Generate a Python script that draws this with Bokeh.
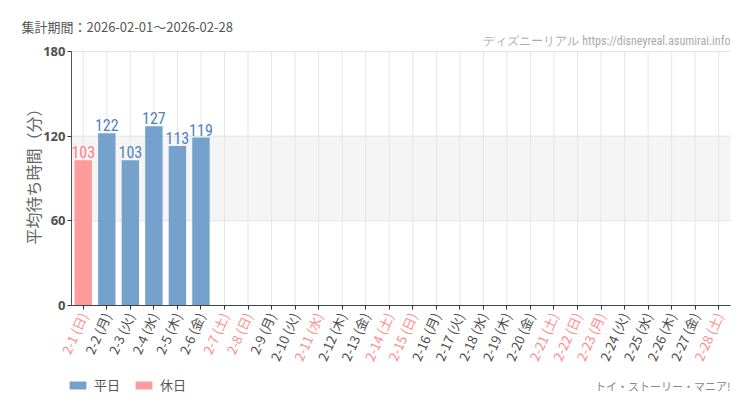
import math
from bokeh.plotting import figure
from bokeh.models import (ColumnDataSource, LinearAxis, FixedTicker, BoxAnnotation,
                          Label, Legend, LegendItem, Range1d)
from bokeh.core.properties import value
from bokeh.embed import file_html
from bokeh.resources import INLINE

# ---- data ----
dates = ["2-1", "2-2", "2-3", "2-4", "2-5", "2-6", "2-7", "2-8", "2-9", "2-10",
         "2-11", "2-12", "2-13", "2-14", "2-15", "2-16", "2-17", "2-18", "2-19", "2-20",
         "2-21", "2-22", "2-23", "2-24", "2-25", "2-26", "2-27", "2-28"]
dows = ["日", "月", "火", "水", "木", "金", "土", "日", "月", "火",
        "水", "木", "金", "土", "日", "月", "火", "水", "木", "金",
        "土", "日", "月", "火", "水", "木", "金", "土"]
holiday = [1, 0, 0, 0, 0, 0, 1, 1, 0, 0,
           1, 0, 0, 1, 1, 0, 0, 0, 0, 0,
           1, 1, 1, 0, 0, 0, 0, 1]
wait_values = [103, 122, 103, 127, 113, 119]   # 2-1 .. 2-6
y_ticks = [0, 60, 120, 180]
Y_MAX = 180

N = len(dates)
idx = list(range(N))
labels = [f"{d} ({w})" for d, w in zip(dates, dows)]
wk_idx = [i for i in idx if not holiday[i]]
hd_idx = [i for i in idx if holiday[i]]

BLUE = "#6b9bc8"
BLUE_TXT = "#4d84bb"
PINK = "#ff9393"
PINK_TXT = "#ff7f7f"
HOL_LABEL = "#ff8c8c"
WK_LABEL = "#4f4f4f"
JP = "Noto Sans CJK JP"
COND = "Roboto Condensed"

wk = dict(x=[], top=[], t=[])
hd = dict(x=[], top=[], t=[])
for i, v in enumerate(wait_values):
    tgt = hd if holiday[i] else wk
    tgt["x"].append(i); tgt["top"].append(v); tgt["t"].append(str(v))
src_wk = ColumnDataSource(wk)
src_hd = ColumnDataSource(hd)

# page geometry (canvas px)
W, H = 750, 410
X_L, X_R = 71, 730      # left / right edge of the value area
Y180, Y0 = 51, 305      # 180 line / 0 line
ppx = (X_R - X_L) / N
ppu = (Y0 - Y180) / Y_MAX
x_lo = -0.5 - X_L / ppx
x_hi = N - 0.5 + (W - X_R) / ppx
y_lo = -(H - Y0) / ppu
y_hi = Y_MAX + Y180 / ppu

p = figure(x_range=Range1d(x_lo, x_hi), y_range=Range1d(y_lo, y_hi), width=W, height=H,
           output_backend="svg", toolbar_location=None,
           min_border_left=0, min_border_right=0, min_border_top=0, min_border_bottom=0)
p.outline_line_color = None
p.background_fill_color = "white"
p.border_fill_color = "white"
p.xgrid.visible = False
p.ygrid.visible = False

band = BoxAnnotation(left=-0.5, right=N - 0.5, bottom=60, top=120, fill_color="#e8e8e8",
                     fill_alpha=0.45, line_color=None, level="underlay")
p.add_layout(band)

# grid lines over the value area only
p.segment(x0=idx, y0=[0] * N, x1=idx, y1=[Y_MAX] * N, line_color="#e6e6e6", line_width=1)
p.segment(x0=[-0.5] * len(y_ticks), y0=y_ticks, x1=[N - 0.5] * len(y_ticks), y1=y_ticks,
          line_color="#e3e3e3", line_width=1)

r_wk = p.vbar(x="x", top="top", width=0.74, source=src_wk, fill_color=BLUE,
              line_color=None, fill_alpha=0.93)
r_hd = p.vbar(x="x", top="top", width=0.74, source=src_hd, fill_color=PINK,
              line_color=None, fill_alpha=0.93)
p.text(x="x", y="top", text="t", source=src_wk, text_align="center", text_baseline="bottom",
       y_offset=-2, text_color=BLUE_TXT, text_font=value(COND), text_font_size="16px")
p.text(x="x", y="top", text="t", source=src_hd, text_align="center", text_baseline="bottom",
       y_offset=-2, text_color=PINK_TXT, text_font=value(COND), text_font_size="16px")

# y axis at the left edge of the value area
ya = p.yaxis[0]
ya.fixed_location = -0.5
ya.bounds = (0, Y_MAX)
ya.ticker = FixedTicker(ticks=y_ticks)
ya.major_label_text_font = "Noto Sans"
ya.major_label_text_font_style = "bold"
ya.major_label_text_font_size = "13px"
ya.major_label_text_color = "#505050"
ya.axis_line_color = "#555555"
ya.major_tick_line_color = "#333333"
ya.major_tick_out = 4
ya.major_tick_in = 0
ya.minor_tick_line_color = None
ya.major_label_standoff = 2

ANG = 1.15
def style_x(ax, color):
    ax.major_label_orientation = ANG
    ax.major_label_text_font = JP
    ax.major_label_text_font_size = "13px"
    ax.major_label_text_color = color
    ax.major_tick_line_color = "#333333"
    ax.minor_tick_line_color = None
    ax.major_tick_out = 4
    ax.major_tick_in = 0
    ax.major_label_standoff = 4

# x axis for weekdays (grey labels)
xa = p.xaxis[0]
xa.fixed_location = 0
xa.bounds = (-0.5, N - 0.5)
xa.ticker = FixedTicker(ticks=wk_idx)
xa.major_label_overrides = {i: labels[i] for i in wk_idx}
style_x(xa, WK_LABEL)
xa.axis_line_color = "#444444"

# x axis for holidays (pink labels)
xa2 = LinearAxis(fixed_location=0, ticker=FixedTicker(ticks=hd_idx))
xa2.major_label_overrides = {i: labels[i] for i in hd_idx}
style_x(xa2, HOL_LABEL)
xa2.axis_line_color = None
p.add_layout(xa2, "below")

# texts (screen px from the canvas bottom-left)
def txt(text, x, y_from_top, font, size, color, align, angle=0.0):
    p.add_layout(Label(x=x, y=H - y_from_top, x_units="screen", y_units="screen",
                       text=text, text_font=font, text_font_size=size, text_color=color,
                       text_baseline="middle", text_align=align, angle=angle))

txt("集計期間：2026-02-01～2026-02-28", 21, 26, JP, "13px", "#555555", "left")
txt("ディズニーリアル https://disneyreal.asumirai.info", X_R, 40, COND, "12px",
    "#aaaaaa", "right")
txt("トイ・ストーリー・マニア!", X_R, 385, JP, "11px", "#888888", "right")
txt("平均待ち時間（分）", 32, 172, JP, "16px", "#666666", "center", math.pi / 2)

legend = Legend(items=[LegendItem(label="平日", renderers=[r_wk]),
                       LegendItem(label="休日", renderers=[r_hd])],
                location=(67, 16), orientation="horizontal",
                glyph_width=21, glyph_height=10, label_standoff=6, spacing=13,
                padding=0, margin=0, border_line_color=None, background_fill_alpha=0,
                label_text_font=JP, label_text_font_size="13px", label_text_color="#555555")
p.add_layout(legend)

open("out.html", "w").write(file_html(p, INLINE))
